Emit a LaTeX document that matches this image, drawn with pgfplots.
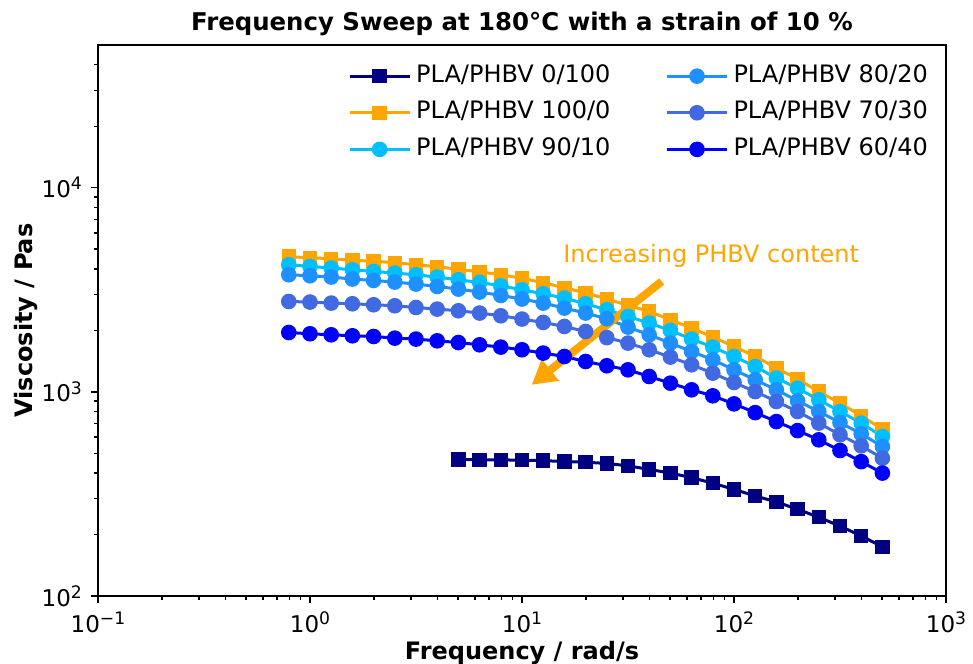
\documentclass[border=0pt]{standalone}
\usepackage{fontspec}
\setmainfont{DejaVu Sans}
\usepackage{pgfplots}
\pgfplotsset{compat=1.18}
\usetikzlibrary{arrows.meta}
\definecolor{cNavy}{HTML}{000080}
\definecolor{cOrange}{HTML}{FFA500}
\definecolor{cCyan}{HTML}{00BFFF}
\definecolor{cDodger}{HTML}{1E90FF}
\definecolor{cRoyal}{HTML}{4169E1}
\definecolor{cBlue}{HTML}{0000FF}
\newcommand{\tp}[1]{10\raisebox{3.8pt}{\fontsize{8.6}{9}\selectfont #1}}
\pgfplotsset{
  sq/.style={color=#1, line width=1.5pt, mark=square*, mark size=3.3pt, mark options={solid, line width=0.6pt, fill=#1}},
  ci/.style={color=#1, line width=1.5pt, mark=*, mark size=3.6pt, mark options={solid, line width=0.6pt, fill=#1}},
}
\begin{document}
\begin{tikzpicture}
\begin{axis}[
  scale only axis, width=424pt, height=275.5pt,
  xmode=log, ymode=log,
  xmin=0.1, xmax=1000, ymin=100, ymax=50000,
  axis line style={line width=0.8pt},
  tick pos=left, tick align=outside,
  major tick length=3.5pt, minor tick length=2pt,
  every tick/.style={black, line width=0.7pt},
  xtick={0.1,1,10,100,1000},
  xticklabels={\tp{−1},\tp{0},\tp{1},\tp{2},\tp{3}},
  minor xtick={0.2,0.3,0.4,0.5,0.6,0.7,0.8,0.9,2,3,4,5,6,7,8,9,20,30,40,50,60,70,80,90,200,300,400,500,600,700,800,900},
  ytick={100,1000,10000},
  yticklabels={\tp{2},\tp{3},\tp{4}},
  minor ytick={200,300,400,500,600,700,800,900,2000,3000,4000,5000,6000,7000,8000,9000,20000,30000,40000},
  tick label style={font=\fontsize{11.5}{12}\selectfont},
  xticklabel style={yshift=-1pt},
  yticklabel style={xshift=-1pt},
  title={\bfseries Frequency Sweep at 180°C with a strain of 10 \%},
  title style={at={(axis description cs:0.5,1.0254)}, anchor=base, yshift=-6pt, font=\fontsize{12.2}{14}\selectfont},
  xlabel={\bfseries Frequency / rad/s},
  xlabel style={at={(axis description cs:0.5,-0.116)}, anchor=base, font=\fontsize{12}{14}\selectfont},
  ylabel={\bfseries Viscosity / Pas},
  ylabel style={at={(axis description cs:-0.0767,0.5)}, anchor=base, font=\fontsize{12}{14}\selectfont},
  legend columns=2,
  legend image code/.code={\draw[mark repeat=2,mark phase=2,#1] plot coordinates {(0pt,0pt) (15pt,0pt) (30pt,0pt)};},
  legend style={draw=none, fill=none, inner sep=0pt, at={(rel axis cs:0.985,0.975)}, anchor=north east,
    font=\fontsize{12}{14}\selectfont, row sep=1.3pt,
    nodes={text height=9pt, text depth=3pt, inner sep=2.5pt},
    /tikz/every even column/.append style={column sep=25pt}},
  clip=false,
]
\coordinate (bbsw) at (rel axis cs:0,0);
\coordinate (bbne) at (rel axis cs:1,1);
% PLA/PHBV 0/100
\addplot[sq=cNavy, forget plot] coordinates {
(5.0119,467) (6.3096,465) (7.9433,464) (10,463) (12.589,460) (15.849,456) (19.953,452) (25.119,446) (31.623,434) (39.811,417) (50.119,400) (63.096,380) (79.433,357) (100,333) (125.89,309) (158.49,289) (199.53,266) (251.19,243) (316.23,220) (398.11,197) (501.19,174)};
% PLA/PHBV 100/0
\addplot[sq=cOrange, forget plot] coordinates {
(0.7943,4592) (1,4539) (1.2589,4487) (1.5849,4412) (1.9953,4363) (2.5119,4290) (3.1623,4194) (3.9811,4100) (5.0119,3985) (6.3096,3874) (7.9433,3745) (10,3601) (12.589,3422) (15.849,3234) (19.953,3057) (25.119,2848) (31.623,2655) (39.811,2475) (50.119,2254) (63.096,2053) (79.433,1854) (100,1668) (125.89,1490) (158.49,1307) (199.53,1154) (251.19,1003) (316.23,880) (398.11,763) (501.19,656)};
% PLA/PHBV 90/10
\addplot[ci=cCyan, forget plot] coordinates {
(0.7943,4194) (1,4114) (1.2589,4041) (1.5849,3963) (1.9953,3888) (2.5119,3819) (3.1623,3745) (3.9811,3650) (5.0119,3540) (6.3096,3434) (7.9433,3308) (10,3162) (12.589,3022) (15.849,2879) (19.953,2700) (25.119,2523) (31.623,2339) (39.811,2172) (50.119,1998) (63.096,1813) (79.433,1656) (100,1490) (125.89,1331) (158.49,1167) (199.53,1042) (251.19,914) (316.23,801) (398.11,703) (501.19,604)};
% PLA/PHBV 80/20
\addplot[ci=cDodger, forget plot] coordinates {
(0.7943,3745) (1,3703) (1.2589,3650) (1.5849,3568) (1.9953,3512) (2.5119,3449) (3.1623,3372) (3.9811,3282) (5.0119,3187) (6.3096,3081) (7.9433,2966) (10,2848) (12.589,2721) (15.849,2572) (19.953,2432) (25.119,2280) (31.623,2076) (39.811,1903) (50.119,1733) (63.096,1576) (79.433,1435) (100,1282) (125.89,1145) (158.49,1023) (199.53,903) (251.19,801) (316.23,707) (398.11,623) (501.19,539)};
% PLA/PHBV 70/30
\addplot[ci=cRoyal, forget plot] coordinates {
(0.7943,2771) (1,2753) (1.2589,2721) (1.5849,2700) (1.9953,2670) (2.5119,2640) (3.1623,2589) (3.9811,2543) (5.0119,2495) (6.3096,2432) (7.9433,2358) (10,2272) (12.589,2187) (15.849,2090) (19.953,1975) (25.119,1844) (31.623,1733) (39.811,1607) (50.119,1480) (63.096,1357) (79.433,1235) (100,1111) (125.89,1003) (158.49,897) (199.53,801) (251.19,703) (316.23,616) (398.11,544) (501.19,473)};
% PLA/PHBV 60/40
\addplot[ci=cBlue, forget plot] coordinates {
(0.7943,1953) (1,1925) (1.2589,1903) (1.5849,1882) (1.9953,1867) (2.5119,1833) (3.1623,1813) (3.9811,1778) (5.0119,1744) (6.3096,1700) (7.9433,1656) (10,1607) (12.589,1548) (15.849,1490) (19.953,1408) (25.119,1342) (31.623,1282) (39.811,1189) (50.119,1103) (63.096,1023) (79.433,956) (100,873) (125.89,791) (158.49,715) (199.53,646) (251.19,582) (316.23,516) (398.11,455) (501.19,400)};
% legend, column-wise order
\addlegendimage{sq=cNavy}\addlegendentry{PLA/PHBV 0/100}
\addlegendimage{ci=cDodger}\addlegendentry{PLA/PHBV 80/20}
\addlegendimage{sq=cOrange}\addlegendentry{PLA/PHBV 100/0}
\addlegendimage{ci=cRoyal}\addlegendentry{PLA/PHBV 70/30}
\addlegendimage{ci=cCyan}\addlegendentry{PLA/PHBV 90/10}
\addlegendimage{ci=cBlue}\addlegendentry{PLA/PHBV 60/40}
\draw[cOrange, line width=4pt, -{Triangle[length=12pt,width=13pt]}] (axis cs:45.6,3474) -- (axis cs:11.1,1082);
\node[anchor=base west, text=cOrange, font=\fontsize{12}{14}\selectfont, inner sep=0pt] at (axis cs:15.6,4288) {Increasing PHBV content};
\end{axis}
\pgfresetboundingbox
\path (bbsw) ++(-49pt,-34pt) rectangle ([shift={(13.5pt,22.5pt)}]bbne);
\end{tikzpicture}
\end{document}
